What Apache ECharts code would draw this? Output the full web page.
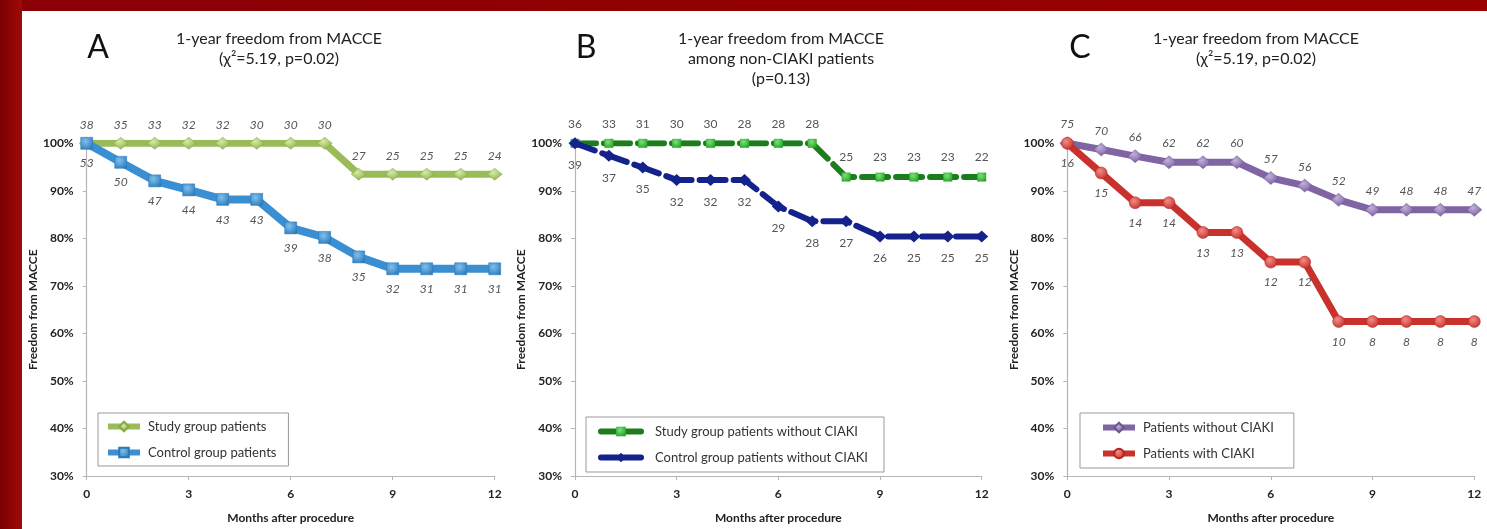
<!DOCTYPE html>
<html>
<head>
<meta charset="utf-8">
<script src="https://cdn.jsdelivr.net/npm/echarts@6/dist/echarts.min.js"></script>
<style>
html,body{margin:0;padding:0;background:#fff;}
#chart{width:1487px;height:529px;}
</style>
</head>
<body>
<div id="chart"></div>
<script>
// ---------- DATA ----------
const months = [0,1,2,3,4,5,6,7,8,9,10,11,12];
const xTicks = [0,3,6,9,12];

// Panel A
const aStudy   = [100,100,100,100,100,100,100,100,93.5,93.5,93.5,93.5,93.5];
const aControl = [100,96.0,92.1,90.2,88.2,88.2,82.2,80.2,76.1,73.6,73.6,73.6,73.6];
const aStudyN   = [38,35,33,32,32,30,30,30,27,25,25,25,24];
const aControlN = [53,50,47,44,43,43,39,38,35,32,31,31,31];

// Panel B
const bStudy   = [100,100,100,100,100,100,100,100,92.9,92.9,92.9,92.9,92.9];
const bControl = [100,97.4,94.9,92.3,92.3,92.3,86.7,83.6,83.6,80.4,80.4,80.4,80.4];
const bStudyN   = [36,33,31,30,30,28,28,28,25,23,23,23,22];
const bControlN = [39,37,35,32,32,32,29,28,27,26,25,25,25];

// Panel C
const cNoCiaki   = [100,98.7,97.3,96.0,96.0,96.0,92.7,91.1,88.1,86.0,86.0,86.0,86.0];
const cWithCiaki = [100,93.75,87.5,87.5,81.25,81.25,75,75,62.5,62.5,62.5,62.5,62.5];
const cNoN   = [75,70,66,62,62,60,57,56,52,49,48,48,47];
const cWithN = [16,15,14,14,13,13,12,12,10,8,8,8,8];

const names = {
  aS: 'Study group patients', aC: 'Control group patients',
  bS: 'Study group patients without CIAKI', bC: 'Control group patients without CIAKI',
  cN: 'Patients without CIAKI', cW: 'Patients with CIAKI'
};
const titles = [
  '1-year freedom from MACCE\n(\u03C7\u00B2=5.19, p=0.02)',
  '1-year freedom from MACCE\namong non-CIAKI patients\n(p=0.13)',
  '1-year freedom from MACCE\n(\u03C7\u00B2=5.19, p=0.02)'
];
const letters = ['A','B','C'];
const yName = 'Freedom from MACCE';
const xName = 'Months after procedure';

// ---------- BUILD ----------
const FONT = 'Lato, "Open Sans", sans-serif';
const pts = arr => months.map((m,i)=>[m, arr[i]]);
function grad(light, dark){
  return {type:'radial', x:0.4, y:0.35, r:0.75, colorStops:[{offset:0,color:light},{offset:1,color:dark}]};
}

const grids = [
  {left:86.7, top:143.3, width:408, height:334.4},
  {left:575, top:143.3, width:406.7, height:334.4},
  {left:1067.3, top:143.3, width:407, height:334.4}
];

const xAxes = grids.map((g,i)=>({
  gridIndex:i, type:'value', min:0, max:12, interval:3,
  axisLine:{lineStyle:{color:'#b5b5b5', width:1.2}},
  axisTick:{show:true, length:4, inside:false, lineStyle:{color:'#b5b5b5'}},
  splitLine:{show:false},
  axisLabel:{color:'#222', fontWeight:'bold', fontSize:12, fontFamily:FONT, margin:12},
  name:xName, nameLocation:'middle', nameGap:36,
  nameTextStyle:{color:'#222', fontWeight:'bold', fontSize:12, fontFamily:FONT}
}));
const yAxes = grids.map((g,i)=>({
  gridIndex:i, type:'value', min:30, max:100, interval:10,
  axisLine:{show:true, lineStyle:{color:'#b5b5b5', width:1.2}},
  axisTick:{show:true, length:4, lineStyle:{color:'#b5b5b5'}},
  splitLine:{show:false},
  axisLabel:{color:'#222', fontWeight:'bold', fontSize:12, fontFamily:FONT, margin:13, formatter:'{value}%'},
  name:yName, nameLocation:'middle', nameGap:47, nameRotate:90,
  nameTextStyle:{color:'#222', fontWeight:'bold', fontSize:12, fontFamily:FONT}
}));

function labelCfg(arr, pos, dist, italic){
  return {show:true, position:pos, distance:dist, color:'#555', fontSize:12,
    fontStyle: italic ? 'italic':'normal', fontFamily:FONT,
    formatter: p => String(arr[p.dataIndex])};
}

const series = [
  // Panel A
  {name:names.aS, type:'line', xAxisIndex:0, yAxisIndex:0, data:pts(aStudy),
   symbol:'diamond', symbolSize:[15,12], z:2,
   lineStyle:{color:'#9bbb59', width:7},
   itemStyle:{color:grad('#d6eba6','#86a944'), borderColor:'#86a944', borderWidth:0.5},
   label:labelCfg(aStudyN,'top',6,true)},
  {name:names.aC, type:'line', xAxisIndex:0, yAxisIndex:0, data:pts(aControl),
   symbol:'rect', symbolSize:12, z:3,
   lineStyle:{color:'#3a8fd2', width:8},
   itemStyle:{color:grad('#7fc0ee','#2a79b8'), borderColor:'#2a79b8', borderWidth:0.5},
   label:labelCfg(aControlN,'bottom',8,true)},
  // Panel B
  {name:names.bS, type:'line', xAxisIndex:1, yAxisIndex:1, data:pts(bStudy),
   symbol:'rect', symbolSize:9, z:2,
   lineStyle:{color:'#1c7d1c', width:6, type:[26,8], dashOffset:5, cap:'round'},
   itemStyle:{color:grad('#7de07d','#1fa31f')},
   label:labelCfg(bStudyN,'top',9,false)},
  {name:names.bC, type:'line', xAxisIndex:1, yAxisIndex:1, data:pts(bControl),
   symbol:'diamond', symbolSize:[13,12], z:3,
   lineStyle:{color:'#14238c', width:6, type:[26,8], dashOffset:5, cap:'round'},
   itemStyle:{color:'#14238c'},
   label:labelCfg(bControlN,'bottom',10,false)},
  // Panel C
  {name:names.cN, type:'line', xAxisIndex:2, yAxisIndex:2, data:pts(cNoCiaki),
   symbol:'diamond', symbolSize:[15,13], z:2,
   lineStyle:{color:'#7f65a3', width:7},
   itemStyle:{color:grad('#c3b0dd','#6e5592'), borderColor:'#6e5592', borderWidth:0.5},
   label:labelCfg(cNoN,'top',6,true)},
  {name:names.cW, type:'line', xAxisIndex:2, yAxisIndex:2, data:pts(cWithCiaki),
   symbol:'circle', symbolSize:12, z:3,
   lineStyle:{color:'#c8312c', width:7},
   itemStyle:{color:grad('#f48c84','#c02a25'), borderColor:'#b22520', borderWidth:0.5},
   label:labelCfg(cWithN,'bottom',8,true)}
];

const legendBase = {
  orient:'vertical', borderColor:'#999', borderWidth:1, backgroundColor:'#fff',
  itemWidth:32, itemHeight:12, itemGap:13,
  lineStyle:{width:6, type:'solid'},
  textStyle:{color:'#333', fontSize:13, fontFamily:FONT, padding:[0,0,0,3]},
  selectedMode:false
};
const legends = [
  Object.assign({}, legendBase, {left:98, top:413, padding:[7,12,7,7], data:[names.aS, names.aC]}),
  Object.assign({}, legendBase, {left:586, top:417, itemWidth:40, padding:[8,16,8,12],
    textStyle:{color:'#333', fontSize:13, fontFamily:FONT, padding:[0,0,0,9]}, data:[names.bS, names.bC]}),
  Object.assign({}, legendBase, {left:1080, top:413, padding:[8,20,8,20], data:[names.cN, names.cW]})
];

const titleCenters = [274, 776, 1251];
const letterX = [93, 581, 1075];
const titleOpts = [];
titles.forEach((t,i)=>{
  titleOpts.push({text:t, left:titleCenters[i], top:24, textAlign:'center',
    textStyle:{color:'#222', fontSize:16, fontWeight:'normal', lineHeight:20, fontFamily:FONT}});
  titleOpts.push({text:letters[i], left:letterX[i], top:27, textAlign:'center',
    textStyle:{color:'#111', fontSize:32, fontWeight:'normal', fontFamily:FONT}});
});

const chart = echarts.init(document.getElementById('chart'), null, {renderer:'canvas'});
chart.setOption({
  backgroundColor:'#fff',
  animation:false,
  title:titleOpts,
  grid:grids,
  xAxis:xAxes,
  yAxis:yAxes,
  legend:legends,
  series:series,
  graphic:[
    {type:'rect', left:0, top:0, z:100, shape:{width:1487, height:11},
     style:{fill:{type:'linear', x:0, y:0, x2:1, y2:0, colorStops:[{offset:0,color:'#8a0006'},{offset:1,color:'#9a0000'}]}}},
    {type:'rect', left:0, top:0, z:100, shape:{width:22, height:529},
     style:{fill:{type:'linear', x:0, y:0, x2:1, y2:0, colorStops:[{offset:0,color:'#7a0000'},{offset:1,color:'#a00a0a'}]}}}
  ]
});
</script>
</body>
</html>
